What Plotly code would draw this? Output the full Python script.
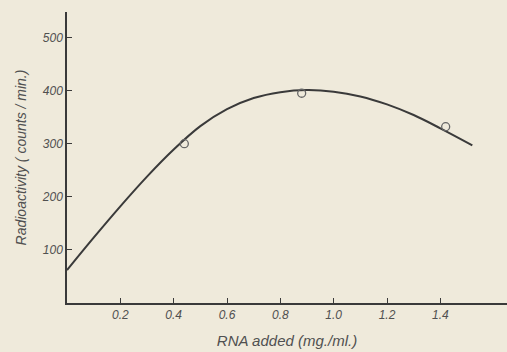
import plotly.graph_objects as go

# Smooth fitted curve
curve_x = [0.0, 0.1, 0.2, 0.3, 0.4, 0.5, 0.6, 0.7, 0.8, 0.9, 1.0, 1.1, 1.2, 1.3, 1.4, 1.52]
curve_y = [62, 123, 182, 238, 289, 333, 365, 386, 397, 401, 398, 389, 374, 354, 329, 297]

# Measured points (open circles)
pts_x = [0.44, 0.88, 1.42]
pts_y = [300, 395, 332]

x_tickvals = [0.2, 0.4, 0.6, 0.8, 1.0, 1.2, 1.4]
x_ticktext = ["0.2", "0.4", "0.6", "0.8", "1.0", "1.2", "1.4"]
y_tickvals = [100, 200, 300, 400, 500]
y_ticktext = ["100", "200", "300", "400", "500"]

bg = "#efeadb"
ink = "#3a3a3a"
txt = "#505050"
font_family = "Liberation Sans, Arial, sans-serif"

fig = go.Figure()
fig.add_trace(go.Scatter(x=curve_x, y=curve_y, mode="lines",
                         line=dict(color=ink, width=2, shape="spline", smoothing=1.0),
                         hoverinfo="skip", showlegend=False))
fig.add_trace(go.Scatter(x=pts_x, y=pts_y, mode="markers",
                         marker=dict(symbol="circle-open", size=8, color="#666666",
                                     line=dict(width=1.3, color="#666666")),
                         showlegend=False))

fig.update_layout(
    width=507, height=352,
    margin=dict(l=67, r=0, t=12, b=49),
    paper_bgcolor=bg, plot_bgcolor=bg,
    font=dict(family=font_family, color=txt),
    xaxis=dict(range=[0, 1.65], showgrid=False, zeroline=False,
               showline=True, linecolor=ink, linewidth=1.5,
               ticks="inside", ticklen=5, tickcolor=ink, tickwidth=1,
               tickvals=x_tickvals, ticktext=x_ticktext,
               tickfont=dict(size=12, family=font_family, style="italic", color=txt),
               title=dict(text="RNA added (mg./ml.)", standoff=14,
                          font=dict(size=15, family=font_family, style="italic", color=txt))),
    yaxis=dict(range=[0, 548], showgrid=False, zeroline=False,
               showline=True, linecolor=ink, linewidth=1.5,
               ticks="inside", ticklen=5, tickcolor=ink, tickwidth=1,
               tickvals=y_tickvals, ticktext=y_ticktext,
               tickfont=dict(size=12, family=font_family, style="italic", color=txt),
               title=dict(text="Radioactivity ( counts / min.)", standoff=12,
                          font=dict(size=14, family=font_family, style="italic", color=txt))),
)

fig.write_html("out.html")
